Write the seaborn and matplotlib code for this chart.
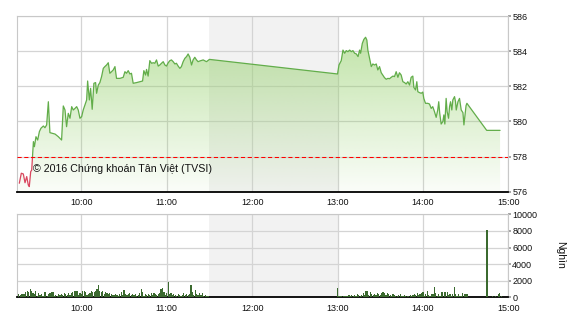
import numpy as np
import matplotlib
matplotlib.use("Agg")
import matplotlib.pyplot as plt
import seaborn as sns
from matplotlib.patches import Rectangle

sns.set_theme(style="white")
plt.rcParams['font.family'] = ['Liberation Sans', 'DejaVu Sans']

# ---------------- data ----------------
# times are minutes after 09:00
price_time = [16.4, 17.8, 19.2, 20.4, 21.6, 22.7, 23.4, 24.4, 25.1,
              26.3, 27.0, 28.1, 29.3, 30.5, 31.6, 33.3, 34.4, 35.6, 36.8, 37.9, 41.5, 43.8, 46.1,
              47.3, 48.5, 49.6, 50.8, 52.0, 53.2, 54.3, 55.5, 56.7, 57.8, 59.0, 60.2, 61.3, 62.5,
              63.7, 64.4, 65.6, 66.5, 67.6, 68.8, 70.0, 70.7, 71.9, 73.0, 74.2, 75.4, 76.5, 77.7,
              78.9, 80.0, 81.2, 82.4, 83.6, 84.7, 87.1, 89.4, 90.6, 91.7, 92.9, 94.1, 95.2, 96.4,
              98.8, 101.1, 103.0, 103.9, 105.1, 105.8, 106.9, 108.1, 109.3, 110.5, 111.6, 112.8,
              114.0, 115.1, 116.3, 117.5, 118.7, 119.8, 121.0, 122.2, 123.3, 124.5, 125.7, 126.8,
              128.0, 129.2, 130.3, 131.5, 132.7, 133.9, 135.0, 136.2, 137.4, 138.5, 139.7, 140.9,
              142.0, 143.2, 145.6, 147.9, 150.0,
              240.0, 241.0, 242.6, 243.8, 245.0, 246.1, 247.3, 248.5, 249.7, 250.8, 252.0, 253.2,
              254.4, 255.5, 256.2, 257.4, 258.5, 259.7, 260.6, 261.3, 262.5, 263.7, 264.8, 266.0,
              267.2, 268.3, 269.5, 270.7, 271.8, 273.0, 274.2, 275.4, 276.5, 277.7, 278.9, 280.0,
              281.2, 282.4, 283.5, 284.7, 285.9, 287.1, 288.2, 289.4, 290.6, 291.7, 292.9, 293.6,
              294.8, 295.7, 296.4, 297.6, 298.8, 299.9, 300.6, 301.8, 303.4, 304.6, 305.8, 306.9,
              308.1, 309.3, 310.4, 311.1, 311.8, 312.8, 314.0, 314.7, 315.4, 316.3, 317.0, 318.0,
              318.7, 319.4, 320.3, 321.0, 322.2, 322.9, 323.4, 324.6, 325.7, 326.9, 328.1, 328.8,
              330.3, 330.9, 344.8, 354.2]
price_value = [576.48, 577.05, 577.01, 576.51, 576.86, 576.38, 576.29, 577.14, 577.23,
               578.85, 578.56, 579.13, 578.94, 579.42, 579.61, 579.74, 579.64, 579.80, 581.12, 579.36, 579.28, 579.13, 578.94,
               580.88, 580.65, 579.70, 580.46, 580.18, 580.84, 580.65, 580.74, 580.84, 580.65, 580.18, 580.27, 580.65, 580.93,
               581.22, 582.30, 581.22, 581.88, 580.69, 582.17, 582.21, 581.60, 582.07, 582.21, 582.55, 583.02, 583.12, 583.21,
               583.34, 582.74, 582.83, 582.93, 583.12, 582.45, 582.45, 582.51, 582.83, 582.74, 582.89, 582.70, 582.74, 582.17,
               582.21, 582.26, 582.30, 582.89, 582.64, 582.96, 582.58, 583.46, 583.31, 583.34, 583.31, 583.50,
               583.15, 583.21, 583.31, 583.40, 583.21, 583.15, 583.34, 583.46, 583.50, 583.40, 583.27, 583.31,
               583.15, 583.02, 583.12, 583.40, 583.59, 583.69, 583.84, 583.65, 583.21, 583.50, 583.65, 583.50,
               583.40, 583.44, 583.50, 583.40, 583.53,
               582.70, 583.21, 583.46, 584.06, 583.88, 584.03, 583.97, 584.06, 583.97, 584.03, 583.88, 583.84,
               583.69, 584.06, 583.88, 584.44, 584.67, 584.79, 584.63, 584.06, 583.59, 583.12, 583.27, 583.21,
               583.27, 582.93, 583.12, 582.77, 582.64, 582.49, 582.40, 582.45, 582.43, 582.51, 582.58, 582.55,
               582.83, 582.51, 582.77, 582.64, 582.26, 582.21, 582.13, 582.26, 582.07, 582.51, 582.58, 581.94,
               581.79, 582.26, 581.69, 581.64, 581.60, 581.67, 581.31, 581.03, 581.03, 580.99, 580.74, 580.84,
               580.56, 580.23, 580.65, 581.12, 580.46, 579.85, 579.99, 580.37, 579.85, 581.31, 580.56, 580.18,
               580.84, 581.12, 580.65, 581.22, 581.41, 581.12, 580.65, 581.12, 581.31, 580.65, 580.50, 579.80,
               580.90, 581.03, 579.49, 579.49]
ref_price = 578
break_start, break_end = 150, 240

tick_minutes = [60, 120, 180, 240, 300, 360]
tick_labels = ["10:00", "11:00", "12:00", "13:00", "14:00", "15:00"]
price_ticks = [576, 578, 580, 582, 584, 586]
vol_ticks = [0, 2000, 4000, 6000, 8000, 10000]

vol_morning_start = 16
vol_morning = [400, 320, 400, 400, 400, 600, 800, 600, 1000, 800, 480, 400, 720, 200, 480, 320, 400, 200,
               600, 600, 200, 400, 480, 600, 600, 200, 320, 200, 400, 320, 400, 320, 480, 400, 320, 480,
               320, 480, 600, 720, 800, 720, 320, 480, 400, 720, 800, 600, 320, 400, 480, 720, 600, 600,
               800, 1000, 1520, 720, 600, 800, 400, 600, 480, 400, 480,
               400, 320, 320, 400, 320, 200, 400, 600, 320, 880, 400, 320, 400, 480, 320, 400, 320, 400,
               200, 320, 480, 1000, 600, 200, 400, 320, 400, 320, 480, 320, 480, 400, 320, 400, 480, 1000,
               1120, 600, 320, 480, 1800, 400, 480, 320, 400, 320, 200, 400, 320, 200, 320, 480, 320, 400,
               320, 400, 1520, 600, 320, 880, 400, 320, 480, 320, 480, 200, 320, 200, 200]
vol_afternoon_start = 240
vol_afternoon = [1100,
                 120, 200, 200, 200, 120, 200, 200, 320, 200, 320, 200, 320, 200,
                 400, 320, 200, 320, 480, 320, 800, 720, 320, 600, 400, 320, 400, 320, 480,
                 400, 320, 480, 600, 480, 320, 480, 400, 320, 200, 400, 320, 200,
                 200, 320, 400, 200,
                 200, 320, 200, 120, 200, 320, 200, 320, 400, 320, 480, 320, 400, 480, 600,
                 200, 400, 800, 320, 200, 400, 400, 1200, 480, 200, 400, 200, 600, 600, 600, 600,
                 600, 320, 400, 200, 400, 1200, 400, 200, 400, 200, 120, 480, 400, 400, 400]
vol_late_time = [345, 349, 351, 353, 354, 355]
vol_late = [8100, 120, 120, 400, 480, 200]

vol_time = (list(range(vol_morning_start, vol_morning_start + len(vol_morning)))
            + list(range(vol_afternoon_start, vol_afternoon_start + len(vol_afternoon)))
            + vol_late_time)
vol_value = vol_morning + vol_afternoon + vol_late

# ---------------- figure ----------------
fig = plt.figure(figsize=(5.7, 3.2), dpi=100)
fig.patch.set_facecolor("white")
ax1 = fig.add_axes([0.0304, 0.401, 0.8614, 0.549])
ax2 = fig.add_axes([0.0304, 0.0709, 0.8614, 0.2594])

grid_c = "#d4d4d4"
x0, x1 = 15, 360

for ax in (ax1, ax2):
    ax.set_facecolor("white")
    ax.axvspan(break_start, break_end, color="#f2f2f2", zorder=0, lw=0)
    ax.set_xticks(tick_minutes)
    ax.set_xticklabels(tick_labels)
    ax.grid(True, color=grid_c, lw=0.9, zorder=1)
    ax.set_axisbelow(True)
    ax.yaxis.tick_right()
    ax.tick_params(axis="x", labelsize=6.5, pad=4.5, length=0, colors="#111111")
    ax.tick_params(axis="y", labelsize=6.5, pad=0.8, length=2, color="#999999",
                   labelcolor="#111111", right=True, left=False)
    for s in ("left", "top", "right"):
        ax.spines[s].set_color("#c8c8c8")
        ax.spines[s].set_linewidth(0.8)
    ax.spines["bottom"].set_color("black")
    ax.spines["bottom"].set_linewidth(1.3)

# price panel
poly = ax1.fill_between(price_time, price_value, 576, color="none", lw=0)
grad = np.zeros((256, 1, 4))
base = np.array([148, 208, 106]) / 255.0
grad[:, 0, :3] = base
grad[:, 0, 3] = np.linspace(0.04, 0.65, 256)
im = ax1.imshow(grad, extent=[x0, x1, 576, 586], aspect="auto", origin="lower",
                zorder=2, interpolation="bilinear")
im.set_clip_path(poly.get_paths()[0], transform=ax1.transData)

sns.lineplot(x=price_time, y=price_value, ax=ax1, color="#62ad4a", lw=0.9,
             estimator=None, zorder=3)
green_line = ax1.lines[-1]
green_line.set_clip_path(Rectangle((x0, ref_price), x1 - x0, 10, transform=ax1.transData))
sns.lineplot(x=price_time, y=price_value, ax=ax1, color="#d9475f", lw=0.9,
             estimator=None, zorder=3)
red_line = ax1.lines[-1]
red_line.set_clip_path(Rectangle((x0, 570), x1 - x0, ref_price - 570, transform=ax1.transData))

ref_line = ax1.axhline(ref_price, color="#ff0000", lw=0.75, ls=(0, (4, 2.5)), zorder=4)
ref_line.set_snap(True)
ax1.text(0.0326, 0.1275, "© 2016 Chứng khoán Tân Việt (TVSI)", transform=ax1.transAxes,
         fontsize=7.7, color="#111111", ha="left", va="center", zorder=5)

ax1.set_xlim(x0, x1)
ax1.set_ylim(576, 586)
ax1.set_yticks(price_ticks)
ax1.set_xlabel("")
ax1.set_ylabel("")

# volume panel
ax2.bar(vol_time, vol_value, width=0.85, color="#3b6a2f", lw=0, zorder=3)
ax2.set_xlim(x0, x1)
ax2.set_ylim(0, 10000)
ax2.set_yticks(vol_ticks)
ax2.set_xlabel("")
ax2.set_ylabel("")

fig.text(560 / 570, 1 - 255 / 320, "Nghìn", rotation=270, ha="center", va="center",
         fontsize=7.5, color="#111111")

fig.savefig("out.png", dpi=100, facecolor="white")
